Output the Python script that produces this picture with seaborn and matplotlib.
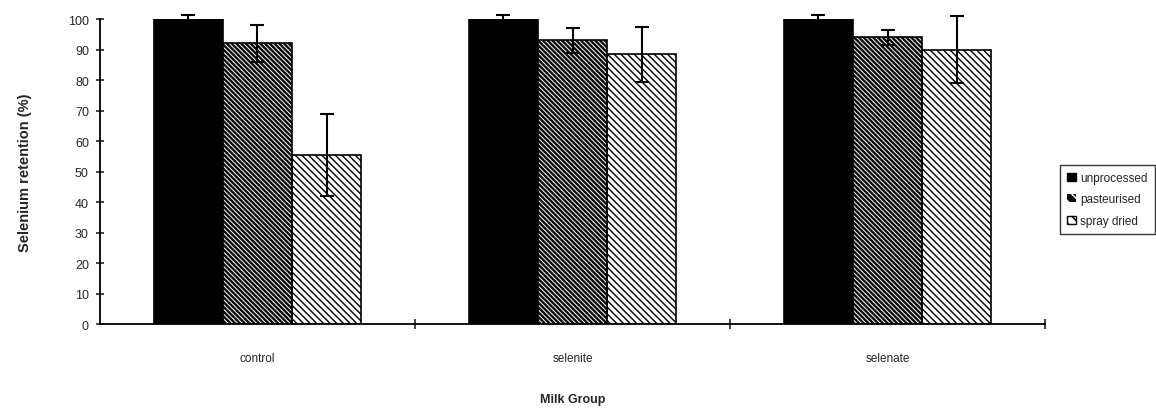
import matplotlib
matplotlib.use("Agg")
import matplotlib.pyplot as plt
from matplotlib.patches import Patch, Rectangle
import seaborn as sns
import pandas as pd

groups = ["control", "selenite", "selenate"]
treatments = ["unprocessed", "pasteurised", "spray dried"]
unprocessed = [100.0, 100.0, 100.0]
pasteurised = [92.0, 93.0, 94.0]
spray_dried = [55.5, 88.5, 90.0]
err_unprocessed = [1.5, 1.5, 1.5]
err_pasteurised = [6.0, 4.0, 2.5]
err_spray_dried = [13.5, 9.0, 11.0]

values = [unprocessed, pasteurised, spray_dried]
errors = [err_unprocessed, err_pasteurised, err_spray_dried]

rows = []
for t, vals in zip(treatments, values):
    for g, v in zip(groups, vals):
        rows.append({"group": g, "treatment": t, "value": v})
df = pd.DataFrame(rows)

sns.set_style("ticks")
plt.rcParams["font.family"] = ["Liberation Sans", "DejaVu Sans"]
plt.rcParams["hatch.linewidth"] = 1.0

fig = plt.figure(figsize=(11.56, 4.10), dpi=100)
ax = fig.add_axes([0.0865, 0.207, 0.8175, 0.744])

sns.barplot(data=df, x="group", y="value", hue="treatment", order=groups,
            hue_order=treatments, palette=["black", "black", "white"],
            width=0.66, errorbar=None, legend=False, ax=ax, saturation=1)

hatch_past = "\\" * 7
hatch_spray = "\\" * 5
styles = [
    dict(face="black", hatchcol="black", hatch=None, hlw=1.0),
    dict(face="#0a0a0a", hatchcol="white", hatch=hatch_past, hlw=0.7),
    dict(face="white", hatchcol="black", hatch=hatch_spray, hlw=1.0),
]

for cont, st, errs in zip(ax.containers, styles, errors):
    for p, e in zip(cont.patches, errs):
        p.set_facecolor(st["face"])
        if st["hatch"]:
            p.set_hatch(st["hatch"])
            p.set_edgecolor(st["hatchcol"])
            if hasattr(p, "set_hatch_linewidth"):
                p.set_hatch_linewidth(st["hlw"])
            p.set_linewidth(0)
            ax.add_patch(Rectangle((p.get_x(), p.get_y()), p.get_width(), p.get_height(),
                                   fill=False, edgecolor="black", linewidth=1.2, zorder=p.get_zorder() + 0.1))
        else:
            p.set_edgecolor("black")
            p.set_linewidth(1.2)
        x = p.get_x() + p.get_width() / 2
        eb = ax.errorbar(x, p.get_height(), yerr=e, fmt="none", ecolor="black",
                         elinewidth=1.5, capsize=5, capthick=1.5, zorder=5)
        for art in eb.lines[1] + eb.lines[2]:
            art.set_clip_on(False)

ax.set_xlim(-0.5, 2.5)
ax.set_ylim(0, 100)
ax.set_yticks(range(0, 101, 10))
ax.set_xticks([0, 1, 2])
ax.set_xticklabels(groups)
ax.set_xticks([0.5, 1.5, 2.5], minor=True)
ax.tick_params(axis="x", which="major", length=0, pad=20, labelsize=8.5)
ax.tick_params(axis="x", which="minor", length=7, direction="inout", width=1.2)
ax.tick_params(axis="y", length=6, direction="inout", width=1.2, pad=5, labelsize=9)
for s in ["top", "right"]:
    ax.spines[s].set_visible(False)
for s in ["left", "bottom"]:
    ax.spines[s].set_linewidth(1.3)
    ax.spines[s].set_color("black")

ax.set_ylabel("Selenium retention (%)", fontsize=10.5, fontweight="bold", labelpad=26)
ax.set_xlabel("Milk Group", fontsize=9, fontweight="bold", labelpad=21)

handles = [
    Patch(facecolor="black", edgecolor="black", linewidth=1),
    Patch(facecolor="#0a0a0a", edgecolor="white", hatch="\\\\\\", linewidth=0),
    Patch(facecolor="white", edgecolor="black", hatch="\\\\\\", linewidth=1),
]
leg = fig.legend(handles, treatments, loc="upper left", bbox_to_anchor=(0.912, 0.61),
                 fontsize=8.5, frameon=True, fancybox=False, edgecolor="black",
                 handlelength=0.7, handleheight=0.7, handletextpad=0.4,
                 labelspacing=0.8, borderpad=0.6)
leg.get_frame().set_linewidth(1.0)

fig.savefig("out.png", dpi=100)
